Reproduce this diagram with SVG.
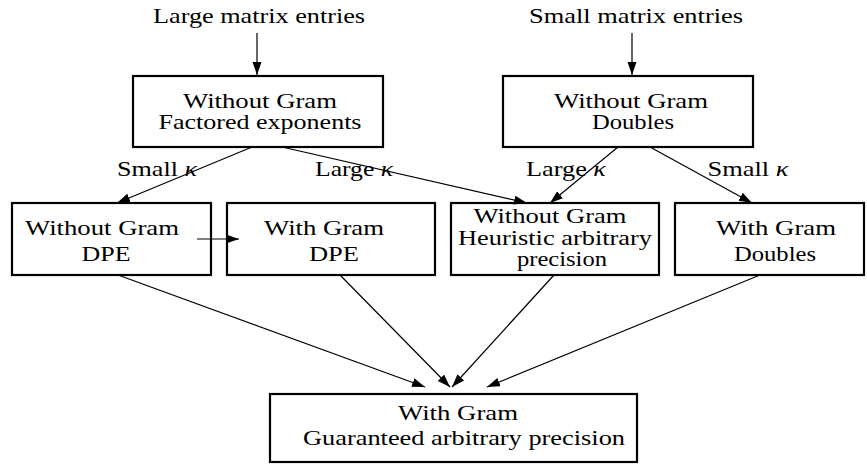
<svg xmlns="http://www.w3.org/2000/svg" width="867" height="464" viewBox="0 0 867 464" font-family="Liberation Serif, DejaVu Serif, serif">
<style>
text{font-size:22px;fill:#000;text-anchor:middle}
.box{fill:#fff;stroke:#000;stroke-width:2.2}
.edge{stroke:#000;stroke-width:1.2;fill:none;marker-end:url(#ah)}
.k{font-style:italic}
</style>
<defs>
<marker id="ah" markerUnits="userSpaceOnUse" markerWidth="14" markerHeight="10" refX="13" refY="4.5" orient="auto">
<path d="M0,0 L13,4.5 L0,9 Z" fill="#000"/>
</marker>
</defs>
<rect width="867" height="464" fill="#fff"/>
<g id="large-entries">
<text x="259" y="23" textLength="212" lengthAdjust="spacingAndGlyphs">Large matrix entries</text>
</g>
<g id="small-entries">
<text x="636" y="23" textLength="214" lengthAdjust="spacingAndGlyphs">Small matrix entries</text>
</g>
<g id="wo-factored">
<rect class="box" x="133" y="76" width="250" height="71"/>
<text x="260" y="108" textLength="154" lengthAdjust="spacingAndGlyphs">Without Gram</text>
<text x="260" y="129" textLength="203" lengthAdjust="spacingAndGlyphs">Factored exponents</text>
</g>
<g id="wo-doubles">
<rect class="box" x="503" y="76" width="250" height="71"/>
<text x="631" y="108" textLength="154" lengthAdjust="spacingAndGlyphs">Without Gram</text>
<text x="633" y="129" textLength="82" lengthAdjust="spacingAndGlyphs">Doubles</text>
</g>
<g id="wo-dpe">
<rect class="box" x="12" y="203" width="199" height="72"/>
<text x="102" y="235" textLength="154" lengthAdjust="spacingAndGlyphs">Without Gram</text>
<text x="106" y="261" textLength="49" lengthAdjust="spacingAndGlyphs">DPE</text>
</g>
<g id="w-dpe">
<rect class="box" x="227" y="203" width="208" height="72"/>
<text x="324" y="235" textLength="120" lengthAdjust="spacingAndGlyphs">With Gram</text>
<text x="334" y="261" textLength="50" lengthAdjust="spacingAndGlyphs">DPE</text>
</g>
<g id="wo-heuristic">
<rect class="box" x="451" y="203" width="208" height="72"/>
<text x="550" y="223" textLength="153" lengthAdjust="spacingAndGlyphs">Without Gram</text>
<text x="555" y="245" textLength="194" lengthAdjust="spacingAndGlyphs">Heuristic arbitrary</text>
<text x="562" y="266" textLength="90" lengthAdjust="spacingAndGlyphs">precision</text>
</g>
<g id="w-doubles">
<rect class="box" x="675" y="203" width="189" height="72"/>
<text x="776" y="235" textLength="120" lengthAdjust="spacingAndGlyphs">With Gram</text>
<text x="775" y="261" textLength="82" lengthAdjust="spacingAndGlyphs">Doubles</text>
</g>
<g id="w-guaranteed">
<rect class="box" x="270" y="394" width="367" height="68"/>
<text x="458" y="420" textLength="120" lengthAdjust="spacingAndGlyphs">With Gram</text>
<text x="464" y="445" textLength="322" lengthAdjust="spacingAndGlyphs">Guaranteed arbitrary precision</text>
</g>
<g id="connectors">
<line class="edge" x1="257" y1="33" x2="257" y2="75"/>
<line class="edge" x1="632" y1="33" x2="632" y2="75"/>
<line class="edge" x1="252" y1="147" x2="117" y2="203"/>
<line class="edge" x1="282" y1="147" x2="527" y2="203"/>
<line class="edge" x1="618" y1="147" x2="550" y2="203"/>
<line class="edge" x1="650" y1="147" x2="752" y2="203"/>
<line class="edge" x1="197" y1="239" x2="239" y2="239"/>
<line class="edge" x1="118" y1="275" x2="425" y2="387"/>
<line class="edge" x1="340" y1="275" x2="450" y2="387"/>
<line class="edge" x1="554" y1="275" x2="452" y2="387"/>
<line class="edge" x1="760" y1="275" x2="487" y2="387"/>
<text x="157" y="176" textLength="80" lengthAdjust="spacingAndGlyphs">Small <tspan class="k">κ</tspan></text>
<text x="354" y="176" textLength="78" lengthAdjust="spacingAndGlyphs">Large <tspan class="k">κ</tspan></text>
<text x="566" y="176" textLength="80" lengthAdjust="spacingAndGlyphs">Large <tspan class="k">κ</tspan></text>
<text x="748" y="176" textLength="81" lengthAdjust="spacingAndGlyphs">Small <tspan class="k">κ</tspan></text>
</g>
</svg>
